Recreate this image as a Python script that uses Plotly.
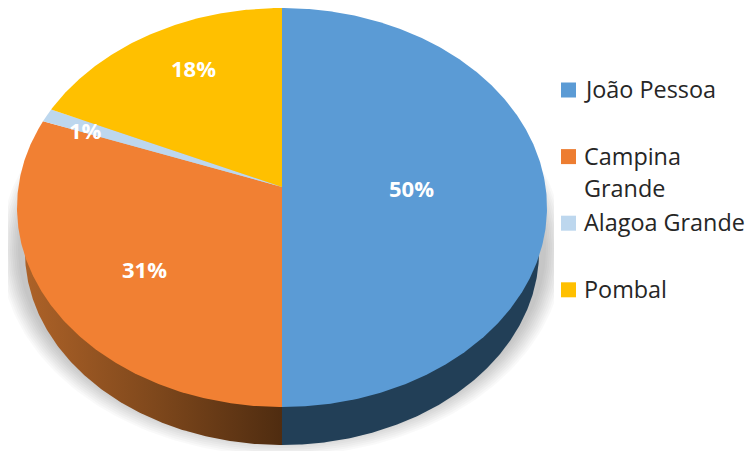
import numpy as np
import plotly.graph_objects as go

categories = ["João Pessoa", "Campina Grande", "Alagoa Grande", "Pombal"]
values = [50, 30.6, 1.1, 18.3]
colors = ["#5B9BD5", "#F18033", "#BDD7EE", "#FFC000"]
legend_colors = ["#5B9BD5", "#ED7D31", "#BDD7EE", "#FFC000"]
legend_lines = [["João Pessoa"], ["Campina", "Grande"], ["Alagoa Grande"], ["Pombal"]]

W, H = 748, 451
CX, CY = 282, 187          # apex of the top face
A, B, K = 263.6, 197.4, 0.1028   # perspective disc
SIDE_Y, SIDE_S = 231.6, 0.97     # lower rim of the disc


def project(theta, cy=CY, s=1.0):
    u, v = np.sin(theta), np.cos(theta)
    d = 1 + K * v
    return CX + s * A * u / d, cy - s * B * v / d


def wedge(t0, t1, cy=CY, s=1.0):
    n = max(3, int(abs(t1 - t0) / np.radians(0.5)))
    th = np.linspace(t0, t1, n)
    x, y = project(th, cy, s)
    return np.r_[CX, x, CX], np.r_[cy, y, cy]


fig = go.Figure()

# soft shadow behind the pie
for inset in range(0, 20, 2):
    t = np.linspace(0, 2 * np.pi, 241)
    fig.add_trace(go.Scatter(
        x=282 + (282 - inset) * np.cos(t), y=249 + (207 - inset) * np.sin(t),
        mode="lines", line=dict(width=0), fill="toself",
        fillcolor="rgba(0,0,0,0.024)", hoverinfo="skip", showlegend=False))

# white panels that crop the shadow
for px, py in [([554, W, W, 554, 554], [0, 0, 312, 312, 0]), ([0, 8, 8, 0, 0], [0, 0, H, H, 0])]:
    fig.add_trace(go.Scatter(x=px, y=py, mode="lines", line=dict(width=0), fill="toself",
                             fillcolor="white", hoverinfo="skip", showlegend=False))

edges = np.r_[0, np.cumsum(values)] / sum(values) * 2 * np.pi

# rim
for i in range(len(values)):
    x, y = wedge(edges[i], edges[i + 1], SIDE_Y, SIDE_S)
    kw = dict(fillcolor="#223F57")
    if categories[i] == "Campina Grande":
        kw = dict(fillgradient=dict(
            type="horizontal", start=25, stop=282,
            colorscale=[[0, "#AD6228"], [0.5, "#7F481C"], [1, "#4F2C10"]]))
    elif categories[i] != "João Pessoa":
        continue
    fig.add_trace(go.Scatter(x=x, y=y, mode="lines", line=dict(width=0),
                             fill="toself", hoverinfo="skip", showlegend=False, **kw))

# top face
for i, name in enumerate(categories):
    x, y = wedge(edges[i], edges[i + 1])
    fig.add_trace(go.Scatter(x=x, y=y, mode="lines", line=dict(width=0), fill="toself",
                             fillcolor=colors[i], name=name, showlegend=False,
                             hoverinfo="name"))

# legend keys
LEG_X, LEG_Y, LEG_STEP = 568.5, 90, 66.6
fig.add_trace(go.Scatter(
    x=[LEG_X] * len(categories), y=[LEG_Y + i * LEG_STEP for i in range(len(categories))],
    mode="markers", marker=dict(symbol="square", size=15, color=legend_colors, line=dict(width=0)),
    hoverinfo="skip", showlegend=False))

annotations = []
label_pos = [(411, 188), (144, 269), (85, 130), (193, 68)]
for v, (lx, ly) in zip(values, label_pos):
    annotations.append(dict(x=lx, y=ly, text=f"<b>{round(v)}%</b>", showarrow=False,
                            font=dict(family="Open Sans", size=22, color="white")))
for i, lines in enumerate(legend_lines):
    for j, line in enumerate(lines):
        annotations.append(dict(x=581.5, y=LEG_Y - 1 + i * LEG_STEP + j * 32, text=line,
                                showarrow=False, xanchor="left",
                                font=dict(family="Open Sans", size=23.4, color="#262626")))

fig.update_layout(
    width=W, height=H, autosize=False,
    margin=dict(l=0, r=0, t=0, b=0),
    paper_bgcolor="white", plot_bgcolor="white",
    xaxis=dict(range=[0, W], visible=False, fixedrange=True),
    yaxis=dict(range=[H, 0], visible=False, fixedrange=True),
    annotations=annotations,
)
fig.write_html("out.html", config={"displayModeBar": False},
               post_script="document.body.style.margin='0';document.documentElement.style.overflow='hidden';")
